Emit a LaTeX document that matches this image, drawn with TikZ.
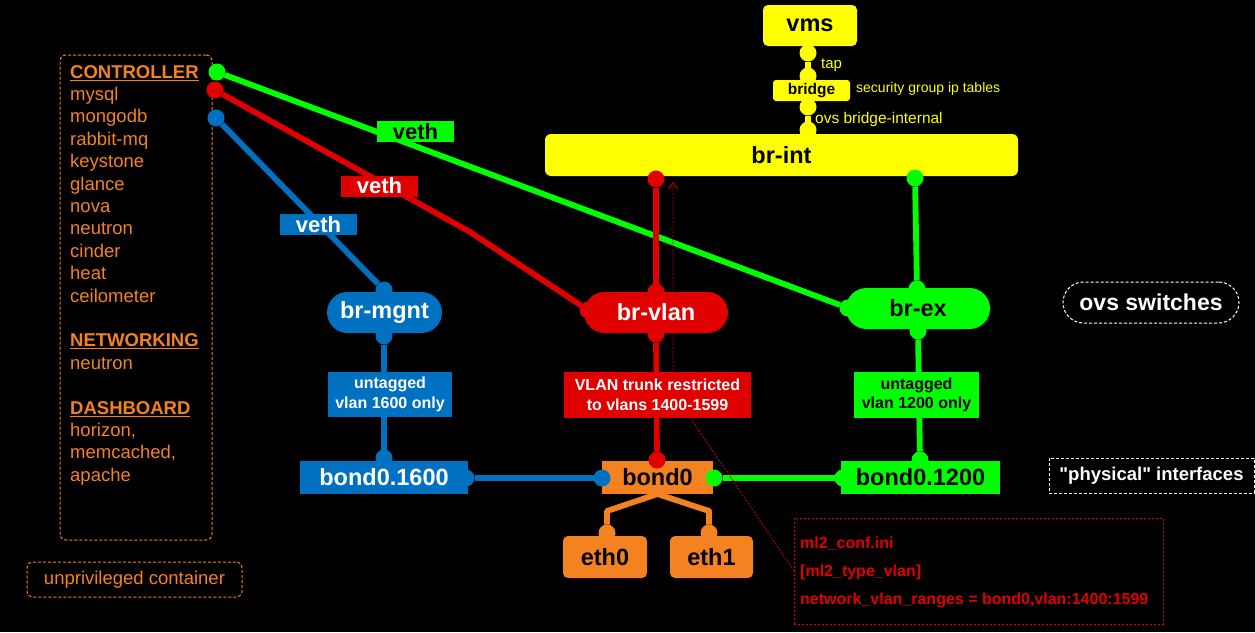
\documentclass[tikz,border=0pt]{standalone}
\usepackage{fontspec}
\setmainfont{Liberation Sans}
\usetikzlibrary{arrows.meta}
\definecolor{cgreen}{HTML}{00FF00}
\definecolor{cred}{HTML}{E00000}
\definecolor{cblue}{HTML}{0070C0}
\definecolor{cyellow}{HTML}{FFFF00}
\definecolor{corange}{HTML}{F58220}
\definecolor{cdred}{HTML}{C00000}
\pgfdeclarelayer{bg}
\pgfdeclarelayer{lines}
\pgfsetlayers{bg,lines,main}
\newcommand\fsz[2]{\fontsize{#1}{#2}\selectfont}
\begin{document}
\begin{tikzpicture}[x=1pt,y=-1pt,
  bx/.style 2 args={minimum width=#1,minimum height=#2,inner sep=0pt,outer sep=0pt},
  big/.style={font=\bfseries\fsz{23.5}{26}},
  small/.style={font=\bfseries\fsz{16}{19.5},align=center},
  dot/.style={circle,fill=#1,minimum size=17pt,inner sep=0pt,outer sep=0pt},
  conn/.style={draw=#1,line width=5.8pt},
  odash/.style={draw=corange,line width=1pt,dash pattern=on 3pt off 2pt,rounded corners=6pt},
  wdash/.style={draw=white,line width=1pt,dash pattern=on 3pt off 2pt},
  vethbox/.style={bx={77}{21},font=\bfseries\fsz{22}{24}}
]
\useasboundingbox (0,0) rectangle (1255,632);
\begin{pgfonlayer}{bg}
\fill[black] (0,0) rectangle (1255,632);
\end{pgfonlayer}

% left container box
\node[odash,bx={152}{485}] (ctrlbox) at (136,297.5) {};
\node[anchor=north west,inner sep=0pt,align=left,text=corange,font=\fsz{18.5}{22.4}] (ctrltext) at (70,65)
{\textbf{\underline{CONTROLLER}}\\mysql\\mongodb\\rabbit-mq\\keystone\\glance\\nova\\neutron\\cinder\\heat\\ceilometer\\[22.4pt]
\textbf{\underline{NETWORKING}}\\neutron\\[22.4pt]
\textbf{\underline{DASHBOARD}}\\horizon,\\memcached,\\apache};
\node[odash,bx={215}{35},text=corange,font=\fsz{18.5}{22}] (unpriv) at (134.5,579.5) {unprivileged container};

% yellow stack
\node[fill=cyellow,rounded corners=5pt,bx={94}{41},big] (vms) at (810,25.5) {vms};
\node[fill=cyellow,rounded corners=3pt,bx={77}{21},font=\bfseries\fsz{15.5}{18}] (bridge) at (811.5,90.5) {bridge};
\node[fill=cyellow,rounded corners=6pt,bx={473}{42},big] (brint) at (781.5,155) {br-int};
\node[anchor=west,text=cyellow,inner sep=0pt,font=\fsz{15}{18}] (tap) at (821,65) {tap};
\node[anchor=west,text=cyellow,inner sep=0pt,font=\fsz{14}{17}] (secgrp) at (856,89) {security group ip tables};
\node[anchor=west,text=cyellow,inner sep=0pt,font=\fsz{15.5}{18}] (ovsbi) at (815,119) {ovs bridge-internal};

% bridges
\node[fill=cblue,rounded corners=20.5pt,bx={115}{41},big,text=white] (brmgnt) at (384.5,312.5) {br-mgnt};
\node[fill=cred,rounded corners=20.5pt,bx={144}{41},big,text=white] (brvlan) at (656,312.5) {br-vlan};
\node[fill=cgreen,rounded corners=20.5pt,bx={144}{41},big,text=black] (brex) at (918,308.5) {br-ex};

% vlan labels
\node[fill=cblue,bx={124}{45},small,text=white] (lbl1600) at (390,394.5) {untagged\\vlan 1600 only};
\node[fill=cred,bx={187}{46},small,text=white] (lblvlan) at (657.5,395) {VLAN trunk restricted\\to vlans 1400-1599};
\node[fill=cgreen,bx={125}{46},small,text=black] (lbl1200) at (916.5,395) {untagged\\vlan 1200 only};

% interfaces
\node[fill=cblue,bx={168}{33},big,text=white] (bond1600) at (384,477.5) {bond0.1600};
\node[fill=corange,bx={111}{33},big,text=black] (bond0) at (657.5,477.5) {bond0};
\node[fill=cgreen,bx={159}{33},big,text=black] (bond1200) at (920.5,477.5) {bond0.1200};
\node[fill=corange,rounded corners=5pt,bx={84}{42},big,text=black] (eth0) at (605,557) {eth0};
\node[fill=corange,rounded corners=5pt,bx={83}{42},big,text=black] (eth1) at (711.5,557) {eth1};

% legends
\node[wdash,rounded corners=20.5pt,bx={176}{41},text=white,font=\bfseries\fsz{23}{26}] (ovssw) at (1151,302.5) {ovs switches};
\node[wdash,bx={205}{35},text=white,font=\bfseries\fsz{18.5}{22}\addfontfeatures{Ligatures=TeXOff}] (phys) at (1151.5,475.5) {"physical" interfaces};

% ml2 box
\node[draw=cred,line width=0.9pt,dash pattern=on 2pt off 2pt,bx={369}{106}] (ml2) at (978.5,571) {};
\node[anchor=west,align=left,inner sep=0pt,text=cred,font=\bfseries\fsz{16}{28}] (ml2txt) at (800,572)
{ml2\_conf.ini\\{}[ml2\_type\_vlan]\\network\_vlan\_ranges = bond0,vlan:1400:1599};

% veth labels
\node[fill=cgreen,vethbox,text=black] (vethG) at (415.5,131.5) {veth};
\node[fill=cred,vethbox,text=white] (vethR) at (379.5,186) {veth};
\node[fill=cblue,vethbox,text=white] (vethB) at (318.5,224.5) {veth};

% dots
\node[dot=cgreen] (gC) at (217,72) {};
\node[dot=cred] (rC) at (215,90) {};
\node[dot=cblue] (bC) at (216,118) {};
\node[dot=cred] (rI) at (656,179) {};
\node[dot=cgreen] (gI) at (915,178) {};
\node[dot=cblue] (bMt) at (384,290) {};
\node[dot=cblue] (bMb) at (384,336) {};
\node[dot=cred] (rVt) at (656,292) {};
\node[dot=cred] (rVb) at (656,334) {};
\node[dot=cred] (rVl) at (588,310) {};
\node[dot=cgreen] (gEt) at (917,289) {};
\node[dot=cgreen] (gEb) at (918,331) {};
\node[dot=cgreen] (gEl) at (848,308) {};
\node[dot=cblue] (b16t) at (384,458) {};
\node[dot=cblue] (b16r) at (466,478) {};
\node[dot=cred] (b0t) at (657,460) {};
\node[dot=cblue] (b0l) at (602,478) {};
\node[dot=cgreen] (b0r) at (714,478) {};
\node[dot=cgreen] (b12t) at (920,460) {};
\node[dot=cgreen] (b12l) at (843,478) {};
\node[dot=corange] (e0t) at (607,533) {};
\node[dot=corange] (e1t) at (709,533) {};

\coordinate (rbend) at (470,232);
\coordinate (rdb) at (673,392);
\coordinate (arrtip) at (673,182);

\begin{pgfonlayer}{lines}
\node[dot=cyellow] (yv1) at (808,53) {};
\node[dot=cyellow] (yv2) at (808,76) {};
\node[dot=cyellow] (yv3) at (808,107) {};
\node[dot=cyellow] (yv4) at (808,130) {};
\draw[conn=cyellow] (yv1) -- (yv2);
\draw[conn=cyellow] (yv3) -- (yv4);
\draw[conn=cblue] (bC) -- (bMt);
\draw[conn=cred,line join=round] (rC) -- (rbend) -- (rVl);
\draw[conn=cgreen] (gC) -- (gEl);
\draw[conn=cred] (rI) -- (rVt);
\draw[conn=cgreen] (gI) -- (gEt);
\draw[conn=cblue] (bMb) -- (b16t);
\draw[conn=cred] (rVb) -- (b0t);
\draw[conn=cgreen] (gEb) -- (b12t);
\draw[conn=cblue] (b16r) -- (b0l);
\draw[conn=cgreen] (b0r) -- (b12l);
\draw[conn=corange,line join=round] (bond0.south) -- (e0t |- 0,511) -- (e0t);
\draw[conn=corange,line join=round] (bond0.south) -- (e1t |- 0,511) -- (e1t);
\draw[cdred,line width=0.9pt,dash pattern=on 2pt off 1.5pt,-{Straight Barb[length=6pt,width=9pt]}] (ml2.west) -- (rdb) -- (arrtip);
\end{pgfonlayer}
\end{tikzpicture}
\end{document}
